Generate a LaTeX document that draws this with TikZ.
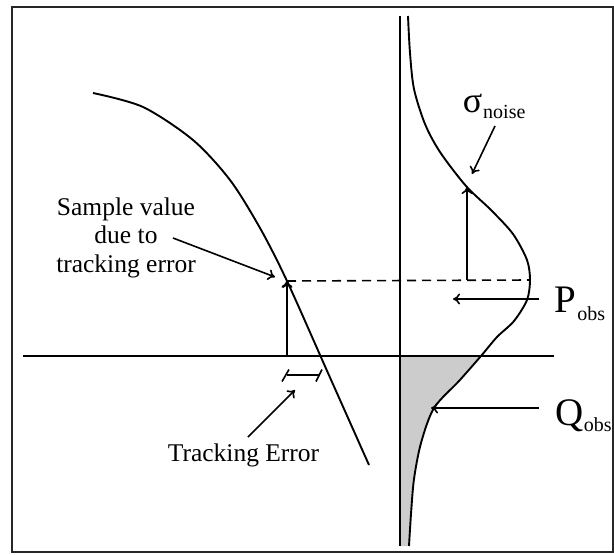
\documentclass[tikz,border=0pt]{standalone}
\usepackage{fontspec}
\setmainfont{Liberation Serif}
\usetikzlibrary{arrows.meta}
\begin{document}
\begin{tikzpicture}[x=1pt,y=-1pt,line width=1.6pt,
  ptr/.style={line width=1.6pt,-{To[length=7pt,width=11pt]}},
  lbl/.style={inner sep=0pt,font=\fontsize{25.5}{28.5}\selectfont},
  sym/.style={inner sep=0pt,anchor=base west,font=\fontsize{39}{39}\selectfont},
  curve/.style={line width=1.9pt}]
\useasboundingbox (0,0) rectangle (614,555);
\draw[line width=2pt,black!85] (12,7) rectangle (613,552);
% key points
\coordinate (hL) at (23,356);
\coordinate (hR) at (554,356);
\coordinate (vT) at (400,16);
\coordinate (vB) at (400,546);
\coordinate (S) at (287,281);
\coordinate (S0) at (287,356);
\coordinate (peak) at (530,280);
\coordinate (sigTop) at (467,187);
\coordinate (sigBot) at (467,280);
% shaded tail
\begin{scope}
\clip plot[smooth] coordinates {(408,16) (410,53) (414,89) (425,124) (440,152) (466,186) (491,210) (513,234) (527,260) (530,280) (527,300) (514,321) (497,337) (481,356) (459,381) (434,408) (421,443) (414,479) (411,514) (409,546)} -- (400,546) -- (400,16) -- cycle;
\fill[black!20] (400,356) rectangle (560,548);
\end{scope}
% axes
\draw (hL) -- (hR);
\draw (vT) -- (vB);
% gaussian
\draw[curve] plot[smooth] coordinates {(408,16) (410,53) (414,89) (425,124) (440,152) (466,186) (491,210) (513,234) (527,260) (530,280) (527,300) (514,321) (497,337) (481,356) (459,381) (434,408) (421,443) (414,479) (411,514) (409,546)};
% left curve
\draw[curve] plot[smooth] coordinates {(93,93) (143,107) (193,140) (230,180) (260,228) (287,281) (328,373) (369,465)};
% dashed level
\draw[line width=1.6pt,dash pattern=on 9pt off 6pt] (S) -- (peak);
% sample arrow
\draw[line width=2.4pt,-{To[length=7pt,width=11pt]}] (S0) -- (S);
% sigma arrow
\draw[ptr] (sigBot) -- (sigTop);
% tracking error bracket
\coordinate (bL) at (287,375);
\coordinate (bR) at (319,375);
\draw (bL) -- (bR);
\draw (282,381.5) -- (289,369.5);
\draw (316,381.5) -- (322,369.5);
% labels
\node[lbl,align=center] (sv) at (126,237.5) {Sample value\\due to\\tracking error};
\node[lbl,anchor=base] (te) at (243.5,461) {Tracking Error};
\node[inner sep=0pt,anchor=base west,font=\fontsize{36}{36}\selectfont] (sig) at (462,112) {σ\kern1pt\raisebox{-6pt}{\fontsize{20}{20}\selectfont noise}};
\node[sym] (P) at (554,312) {P\kern1pt\raisebox{-8pt}{\fontsize{20}{20}\selectfont obs}};
\node[sym] (Q) at (555,425) {Q\raisebox{-6pt}{\fontsize{20}{20}\selectfont obs}};
% pointer arrows
\coordinate (svS) at (173,238);
\coordinate (svE) at (275,277);
\draw[ptr] (svS) -- (svE);
\coordinate (teS) at (248,437);
\coordinate (teE) at (295,390);
\draw[ptr] (teS) -- (teE);
\coordinate (sgS) at (495,126);
\coordinate (sgE) at (472,174);
\draw[ptr] (sgS) -- (sgE);
\coordinate (pS) at (539,299);
\coordinate (pE) at (453,299);
\draw[ptr] (pS) -- (pE);
\coordinate (qS) at (539,408);
\coordinate (qE) at (431,408);
\draw[ptr] (qS) -- (qE);
\end{tikzpicture}
\end{document}
